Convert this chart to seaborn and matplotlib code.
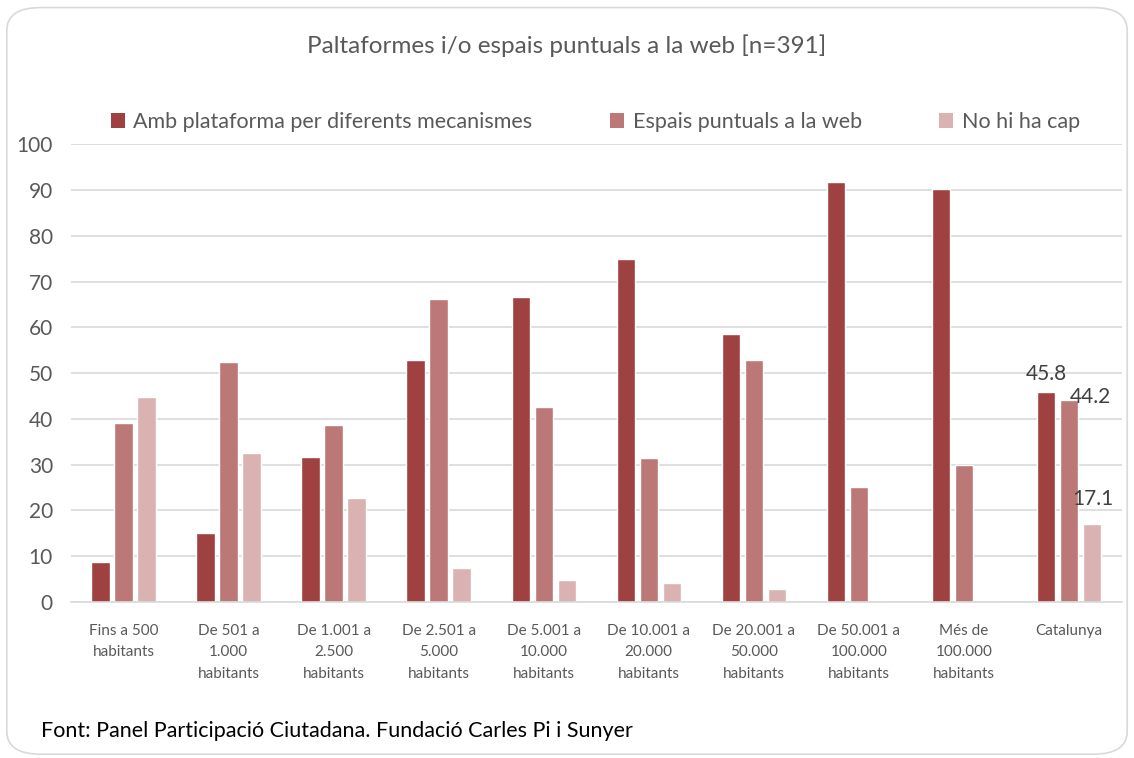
import matplotlib
matplotlib.use("Agg")
import matplotlib.pyplot as plt
from matplotlib.patches import FancyBboxPatch, Patch
import seaborn as sns
import pandas as pd

categories = ["Fins a 500\nhabitants", "De 501 a\n1.000\nhabitants", "De 1.001 a\n2.500\nhabitants",
              "De 2.501 a\n5.000\nhabitants", "De 5.001 a\n10.000\nhabitants", "De 10.001 a\n20.000\nhabitants",
              "De 20.001 a\n50.000\nhabitants", "De 50.001 a\n100.000\nhabitants", "Més de\n100.000\nhabitants",
              "Catalunya"]
series_names = ["Amb plataforma per diferents mecanismes", "Espais puntuals a la web", "No hi ha cap"]
amb_plataforma = [8.8, 15.0, 31.6, 52.8, 66.6, 74.9, 58.5, 91.7, 90.2, 45.8]
espais_puntuals = [39.0, 52.5, 38.6, 66.2, 42.6, 31.4, 52.8, 25.1, 29.9, 44.2]
no_hi_ha_cap = [44.8, 32.5, 22.8, 7.4, 4.8, 4.1, 2.8, 0.0, 0.0, 17.1]
colors = ["#9E4140", "#BB7876", "#DAB2B1"]

rows = []
for vals, name in zip([amb_plataforma, espais_puntuals, no_hi_ha_cap], series_names):
    for c, v in zip(categories, vals):
        rows.append({"cat": c, "serie": name, "val": v})
df = pd.DataFrame(rows)

sns.set_theme(style="white")
plt.rcParams["font.family"] = ["Lato", "DejaVu Sans"]

fig = plt.figure(figsize=(11.34, 7.58), dpi=100)
ax = fig.add_axes([0.0626, 0.2058, 0.9264, 0.604])
sns.barplot(data=df, x="cat", y="val", hue="serie", order=categories, hue_order=series_names,
            palette=colors, width=0.657, gap=0.2, ax=ax, legend=False, saturation=1)

ax.set_ylim(0, 100)
ax.set_xlim(-0.5, len(categories) - 0.5)
ax.set_yticks(range(0, 101, 10))
ax.yaxis.grid(True, color="#D9D9D9", linewidth=1.2)
ax.set_axisbelow(True)
for s in ["top", "right", "left"]:
    ax.spines[s].set_visible(False)
ax.spines["bottom"].set_color("#D9D9D9")
ax.spines["bottom"].set_linewidth(1.2)
ax.set_xlabel("")
ax.set_ylabel("")
ax.tick_params(axis="y", labelsize=15, colors="#595959", length=0, pad=13)
ax.tick_params(axis="x", labelsize=11, colors="#595959", length=0, pad=16)
for lbl in ax.get_xticklabels():
    lbl.set_verticalalignment("top")
    lbl.set_linespacing(1.65)

# Data labels for Catalunya
n = len(categories) - 1
bw = 0.657 / 3
ax.text(n - bw, amb_plataforma[n] + 1.8, f"{amb_plataforma[n]:.1f}", ha="center", va="bottom",
        fontsize=15, color="#404040")
ax.text(n + 0.2, espais_puntuals[n] - 1.5, f"{espais_puntuals[n]:.1f}", ha="center", va="bottom",
        fontsize=15, color="#404040")
ax.text(n + 0.23, no_hi_ha_cap[n] + 3.2, f"{no_hi_ha_cap[n]:.1f}", ha="center", va="bottom",
        fontsize=15, color="#404040")

# legend
handles = [Patch(facecolor=c, edgecolor="none") for c in colors]
fig.legend(handles, series_names, loc="center", bbox_to_anchor=(0.525, 0.839), ncol=3, frameon=False,
           fontsize=15.5, labelcolor="#595959", handlelength=0.65, handleheight=0.65, handletextpad=0.4,
           columnspacing=3.6)

fig.text(0.5, 0.94, "Paltaformes i/o espais puntuals a la web [n=391]", ha="center", va="center",
         fontsize=17.5, color="#595959")
fig.text(0.036, 0.035, "Font: Panel Participació Ciutadana. Fundació Carles Pi i Sunyer", ha="left",
         va="center", fontsize=15.5, color="#000000")

border = FancyBboxPatch((0.006, 0.005), 0.988, 0.985, boxstyle="round,pad=0,rounding_size=0.03",
                        transform=fig.transFigure, facecolor="none", edgecolor="#D9D9D9", linewidth=1.2)
fig.patches.append(border)

fig.savefig("out.png", dpi=100)
